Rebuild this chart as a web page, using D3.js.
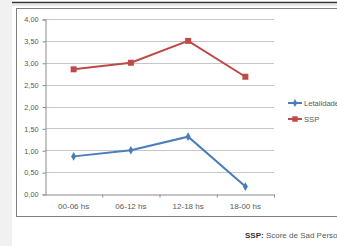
<!DOCTYPE html>
<html>
<head>
<meta charset="utf-8">
<script src="https://cdn.jsdelivr.net/npm/d3@7"></script>
<style>
body { margin: 0; background: #fff; }
text { font-family: "Liberation Sans", Arial, sans-serif; fill: #595959; }
</style>
</head>
<body>
<svg></svg>
<script>
var categories = ['00-06 hs', '06-12 hs', '12-18 hs', '18-00 hs'],
    letalidad = [0.86, 1.0, 1.31, 0.17],
    ssp = [2.85, 3.0, 3.5, 2.68],
    yTicks = [0, 0.5, 1, 1.5, 2, 2.5, 3, 3.5, 4],
    seriesNames = ['Letalidade', 'SSP'],
    colors = ['#4a7ebb', '#be4b48'];

var width = 337,
    height = 246,
    svg = d3.select('svg')
    .attr('width', width)
    .attr('height', height);

// page frame
svg.append('rect').attr('x', 0).attr('y', 0).attr('width', 12).attr('height', height).attr('fill', '#f1f1f1');
svg.append('line').attr('x1', 12).attr('x2', width).attr('y1', 2.5).attr('y2', 2.5)
    .attr('stroke', '#333').attr('stroke-width', 1.6);
svg.append('line').attr('x1', 12).attr('x2', width).attr('y1', 5).attr('y2', 5)
    .attr('stroke', '#d0d0d0').attr('stroke-width', 1);
svg.append('rect').attr('x', 16.5).attr('y', 8.5).attr('width', 340).attr('height', 208)
    .attr('fill', 'none').attr('stroke', '#7f7f7f').attr('stroke-width', 1);

var x = d3.scaleBand().domain(categories).range([45, 274]),
    y = d3.scaleLinear().domain([0, 4]).range([194, 19]);

var chart = svg.append('g').attr('class', 'chart');

// gridlines
chart.selectAll('.grid')
    .data(yTicks.slice(1))
    .enter().append('line')
    .attr('class', 'grid')
    .attr('x1', x.range()[0]).attr('x2', x.range()[1])
    .attr('y1', function (d) { return Math.round(y(d)) + 0.5; })
    .attr('y2', function (d) { return Math.round(y(d)) + 0.5; })
    .attr('stroke', '#c6c6c6');

var fmt = function (d) { return d3.format('.2f')(d).replace('.', ','); };

var yAxis = d3.axisLeft(y).tickValues(yTicks).tickFormat(fmt).tickSize(3).tickPadding(4);
var gy = chart.append('g').attr('transform', 'translate(45.5,0.5)').call(yAxis);
gy.selectAll('text').style('font-size', '7.3px');

var xAxis = d3.axisBottom(x).tickSize(0).tickPadding(9);
var gx = chart.append('g').attr('transform', 'translate(0,194.5)').call(xAxis);
gx.selectAll('text').style('font-size', '8px');
gx.selectAll('.tick').append('line')
    .attr('x1', x.bandwidth() / 2 + 0.5).attr('x2', x.bandwidth() / 2 + 0.5)
    .attr('y1', 0).attr('y2', 3).attr('stroke', '#8c8c8c');
gy.select('.domain').attr('stroke', '#8c8c8c');
gy.selectAll('.tick line').attr('stroke', '#8c8c8c');
gx.select('.domain').attr('stroke', '#8c8c8c');

var line = d3.line()
    .x(function (d, i) { return x(categories[i]) + x.bandwidth() / 2; })
    .y(function (d) { return y(d); });

[letalidad, ssp].forEach(function (s, k) {
    chart.append('path')
        .datum(s)
        .attr('d', line)
        .attr('fill', 'none')
        .attr('stroke', colors[k])
        .attr('stroke-width', 2);
    chart.selectAll('.m' + k)
        .data(s)
        .enter().append('path')
        .attr('class', 'm' + k)
        .attr('transform', function (d, i) {
            return 'translate(' + (x(categories[i]) + x.bandwidth() / 2) + ',' + y(d) + ')';
        })
        .attr('d', d3.symbol().type(k == 0 ? d3.symbolDiamond : d3.symbolSquare).size(k == 0 ? 22 : 36))
        .attr('fill', colors[k]);
});

// legend
var ledgend = svg.append('g')
    .attr('transform', 'translate(288,103)')
    .selectAll('.li')
    .data(seriesNames)
    .enter().append('g')
    .attr('class', 'li')
    .attr('transform', function (d, i) { return 'translate(0,' + i * 16 + ')'; });
ledgend.append('line')
    .attr('x1', 0).attr('x2', 14)
    .attr('stroke', function (d, i) { return colors[i]; })
    .attr('stroke-width', 2);
ledgend.append('path')
    .attr('transform', 'translate(7,0)')
    .attr('d', function (d, i) { return d3.symbol().type(i == 0 ? d3.symbolDiamond : d3.symbolSquare).size(i == 0 ? 18 : 30)(); })
    .attr('fill', function (d, i) { return colors[i]; });
ledgend.append('text')
    .attr('x', 16)
    .attr('dy', '0.35em')
    .style('font-size', '7.6px')
    .text(function (d) { return d; });

// footnote
var note = svg.append('text')
    .attr('x', 245)
    .attr('y', 238)
    .style('font-size', '8px');
note.append('tspan').style('font-weight', 'bold').attr('fill', '#333').text('SSP:');
note.append('tspan').text(' Score de Sad Persons');
</script>
</body>
</html>
